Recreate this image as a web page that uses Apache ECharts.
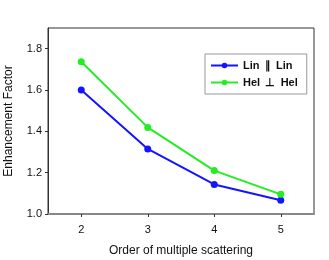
<!DOCTYPE html>
<html><head><meta charset="utf-8">
<script src="https://cdn.jsdelivr.net/npm/echarts@6/dist/echarts.min.js"></script>
<style>html,body{margin:0;padding:0;background:#fff}#c{width:329px;height:260px}</style>
</head><body><div id="c"></div>
<script>
const orders = [2, 3, 4, 5];
const linLin = [1.600, 1.315, 1.143, 1.067];
const helHel = [1.737, 1.419, 1.210, 1.095];
const seriesNames = ['Lin \u2009\u2225\u2009 Lin', 'Hel \u2009\u22A5\u2009 Hel'];
const yTicks = [1.0, 1.2, 1.4, 1.6, 1.8];

const chart = echarts.init(document.getElementById('c'), null, {renderer: 'canvas'});
const font = 'Liberation Sans, Arial, sans-serif';
chart.setOption({
  animation: false,
  grid: {left: 48, top: 28, right: 15, bottom: 46, outerBoundsMode: 'none', containLabel: false,
    show: true, borderColor: '#333', borderWidth: 1, backgroundColor: 'transparent'},
  legend: {
    data: seriesNames, orient: 'vertical', left: 205, top: 54,
    padding: [6, 9, 6, 5], itemWidth: 27, itemHeight: 7, itemGap: 6,
    backgroundColor: '#fff', borderColor: '#999', borderWidth: 1, borderRadius: 0,
    textStyle: {fontFamily: font, fontSize: 11, fontWeight: 'bold', color: '#111', padding: [0, 0, 0, 0]}
  },
  xAxis: {
    type: 'value', min: 1.5, max: 5.5,
    name: 'Order of multiple scattering', nameLocation: 'middle', nameGap: 31,
    nameTextStyle: {fontFamily: font, fontSize: 12, color: '#111'},
    splitLine: {show: false},
    axisLine: {show: true, lineStyle: {color: '#888', width: 2}},
    axisTick: {show: true, customValues: orders, length: 3, lineStyle: {color: '#333'}},
    axisLabel: {customValues: orders, fontFamily: font, fontSize: 11, color: '#111', margin: 10}
  },
  yAxis: {
    type: 'value', min: 1.0, max: 1.9,
    name: 'Enhancement Factor', nameLocation: 'middle', nameGap: 33, nameRotate: 90,
    nameTextStyle: {fontFamily: font, fontSize: 12, color: '#111'},
    splitLine: {show: false},
    axisLine: {show: true, lineStyle: {color: '#333', width: 1}},
    axisTick: {show: true, customValues: yTicks, length: 3, lineStyle: {color: '#333'}},
    axisLabel: {customValues: yTicks, fontFamily: font, fontSize: 11, color: '#111', margin: 6,
      formatter: v => v.toFixed(1)}
  },
  series: [
    {name: seriesNames[0], type: 'line', data: orders.map((x, i) => [x, linLin[i]]),
     symbol: 'circle', symbolSize: 7, color: '#1414ff', lineStyle: {width: 2}},
    {name: seriesNames[1], type: 'line', data: orders.map((x, i) => [x, helHel[i]]),
     symbol: 'circle', symbolSize: 7, color: '#22ee22', lineStyle: {width: 2}}
  ]
});
</script></body></html>
